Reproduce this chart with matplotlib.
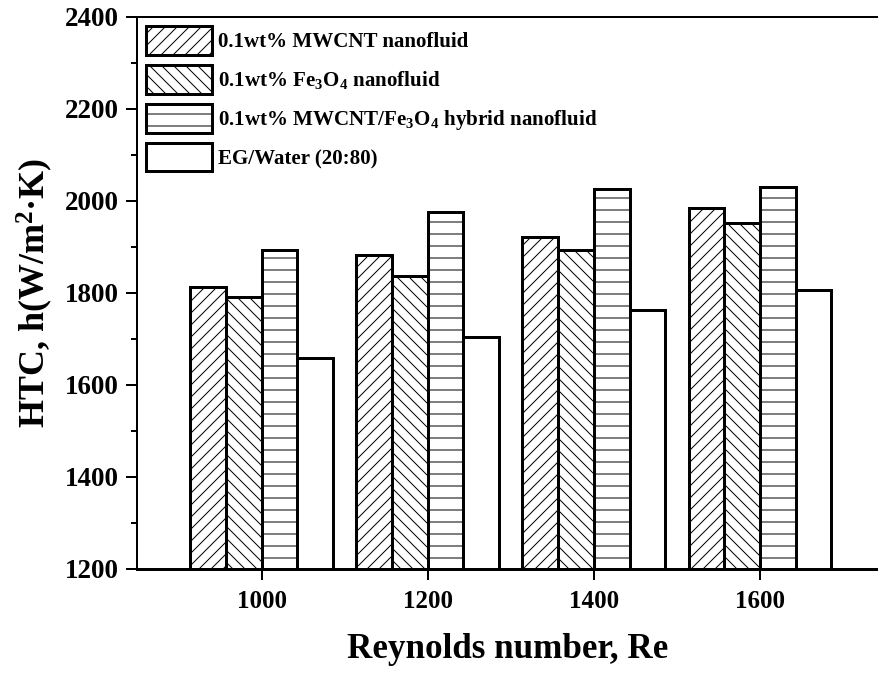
import numpy as np
import matplotlib
matplotlib.use('Agg')
import matplotlib.pyplot as plt

# Data
reynolds = [1000, 1200, 1400, 1600]
htc_mwcnt = [1814, 1882, 1921, 1984]
htc_fe3o4 = [1792, 1838, 1893, 1953]
htc_hybrid = [1893, 1976, 2027, 2031]
htc_base = [1658, 1705, 1764, 1806]
series_labels = ['0.1wt% MWCNT nanofluid',
                 '0.1wt% Fe$_3$O$_4$ nanofluid',
                 '0.1wt% MWCNT/Fe$_3$O$_4$ hybrid nanofluid',
                 'EG/Water (20:80)']

plt.rcParams['font.family'] = ['Liberation Serif', 'DejaVu Serif']
plt.rcParams['font.weight'] = 'bold'
plt.rcParams['mathtext.default'] = 'regular'
plt.rcParams['hatch.linewidth'] = 1.0
plt.rcParams['hatch.color'] = 'black'

fig = plt.figure(figsize=(878 / 72, 673 / 72), dpi=72)
ax = fig.add_axes([137 / 878, 1 - 569 / 673, 1 - 137 / 878, (569 - 17) / 673])

x = np.array(reynolds, dtype=float)
w = 43
hatches = ['//', '\\\\', '-', '']
for i, (vals, hatch, lab) in enumerate(zip([htc_mwcnt, htc_fe3o4, htc_hybrid, htc_base],
                                           hatches, series_labels)):
    ax.bar(x + (i - 1.5) * w, np.array(vals) - 1200, width=w, bottom=1200,
           facecolor='white', edgecolor='black', linewidth=3, hatch=hatch, label=lab)

ax.set_xlim(850, 1742)
ax.set_ylim(1200, 2400)
ax.set_xticks(reynolds)
ax.set_yticks(np.arange(1200, 2401, 200))
ax.set_yticks(np.arange(1300, 2400, 200), minor=True)

ax.spines['right'].set_visible(False)
for s in ['left', 'top']:
    ax.spines[s].set_linewidth(2)
ax.spines['bottom'].set_linewidth(3)

ax.tick_params(axis='y', which='major', direction='out', length=11, width=2, labelsize=27, pad=7)
ax.tick_params(axis='y', which='minor', direction='out', length=6, width=2)
ax.tick_params(axis='x', which='major', direction='out', length=11, width=2, labelsize=25, pad=10)

ax.set_xlabel('Reynolds number, Re', fontsize=35, fontweight='bold', labelpad=20)
ax.set_ylabel('HTC, h(W/m$^2$·K)', fontsize=36, fontweight='bold', labelpad=10)

leg = ax.legend(loc='upper left', frameon=False, fontsize=21, handlelength=3.1,
                handleheight=1.7, labelspacing=0.5, handletextpad=0.3,
                borderpad=0, borderaxespad=0.45)

fig.savefig('out.png', dpi=72)
